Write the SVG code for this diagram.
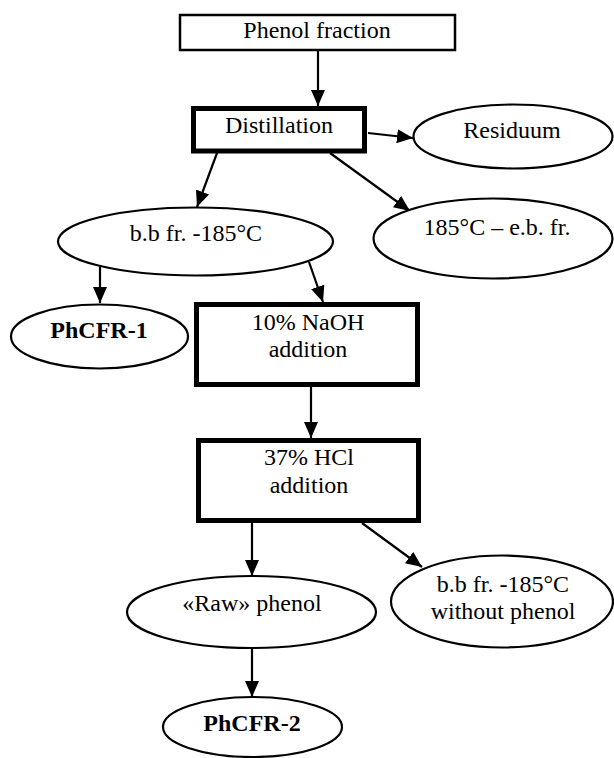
<svg xmlns="http://www.w3.org/2000/svg" width="614" height="758" viewBox="0 0 614 758">
<style>
text{font-family:'Liberation Serif','Times New Roman',Tinos,'DejaVu Serif',serif;font-size:24px;fill:#000;text-anchor:middle}
.b{font-weight:bold}
.thin{fill:#fff;stroke:#000;stroke-width:2.5}
.thick{fill:#fff;stroke:#000;stroke-width:5}
.ell{fill:#fff;stroke:#000;stroke-width:2.2}
.c{stroke:#000;stroke-width:2.2;fill:none;marker-end:url(#ah)}
</style>
<defs>
<marker id="ah" markerUnits="userSpaceOnUse" markerWidth="16" markerHeight="14" refX="16" refY="7" orient="auto">
<path d="M0,0 L16,7 L0,14 z" fill="#000"/>
</marker>
</defs>
<g id="connectors">
<line class="c" x1="318" y1="50" x2="318" y2="106"/>
<line class="c" x1="368" y1="133" x2="413" y2="138"/>
<line class="c" x1="330" y1="153" x2="410" y2="211"/>
<line class="c" x1="217" y1="153" x2="197" y2="207"/>
<line class="c" x1="100" y1="267" x2="100" y2="303"/>
<line class="c" x1="309" y1="262" x2="323" y2="302"/>
<line class="c" x1="311" y1="387" x2="311" y2="438"/>
<line class="c" x1="252" y1="523" x2="252" y2="576"/>
<line class="c" x1="362" y1="523" x2="422" y2="567"/>
<line class="c" x1="252" y1="648" x2="252" y2="697"/>
</g>
<g id="phenol-fraction">
<rect class="thin" x="180" y="15" width="275" height="35"/>
<text x="317" y="38">Phenol fraction</text>
</g>
<g id="distillation">
<rect class="thick" x="193.5" y="108.5" width="171" height="42.5"/>
<text x="279" y="133">Distillation</text>
</g>
<g id="residuum">
<ellipse class="ell" cx="513" cy="136.5" rx="99.5" ry="32"/>
<text x="512" y="138">Residuum</text>
</g>
<g id="ebfr">
<ellipse class="ell" cx="493" cy="238.5" rx="119.5" ry="40"/>
<text x="497" y="235">185°C – e.b. fr.</text>
</g>
<g id="bbfr">
<ellipse class="ell" cx="195.5" cy="241.5" rx="137.5" ry="34"/>
<text x="196" y="241">b.b fr. -185°C</text>
</g>
<g id="phcfr1">
<ellipse class="ell" cx="99.5" cy="336.5" rx="88.5" ry="32"/>
<text class="b" x="99" y="338">PhCFR-1</text>
</g>
<g id="naoh">
<rect class="thick" x="196.5" y="304.5" width="221" height="80"/>
<text x="308" y="330">10% NaOH</text>
<text x="308" y="357">addition</text>
</g>
<g id="hcl">
<rect class="thick" x="198.5" y="440.5" width="220" height="80"/>
<text x="309" y="465">37% HCl</text>
<text x="309" y="493">addition</text>
</g>
<g id="raw-phenol">
<ellipse class="ell" cx="251.5" cy="612" rx="124.5" ry="36"/>
<text x="252" y="611">«Raw» phenol</text>
</g>
<g id="bbfr-without">
<ellipse class="ell" cx="502" cy="601.5" rx="111" ry="46"/>
<text x="503" y="592">b.b fr. -185°C</text>
<text x="503" y="619">without phenol</text>
</g>
<g id="phcfr2">
<ellipse class="ell" cx="252.5" cy="727" rx="89.5" ry="30"/>
<text class="b" x="252" y="731">PhCFR-2</text>
</g>
</svg>
